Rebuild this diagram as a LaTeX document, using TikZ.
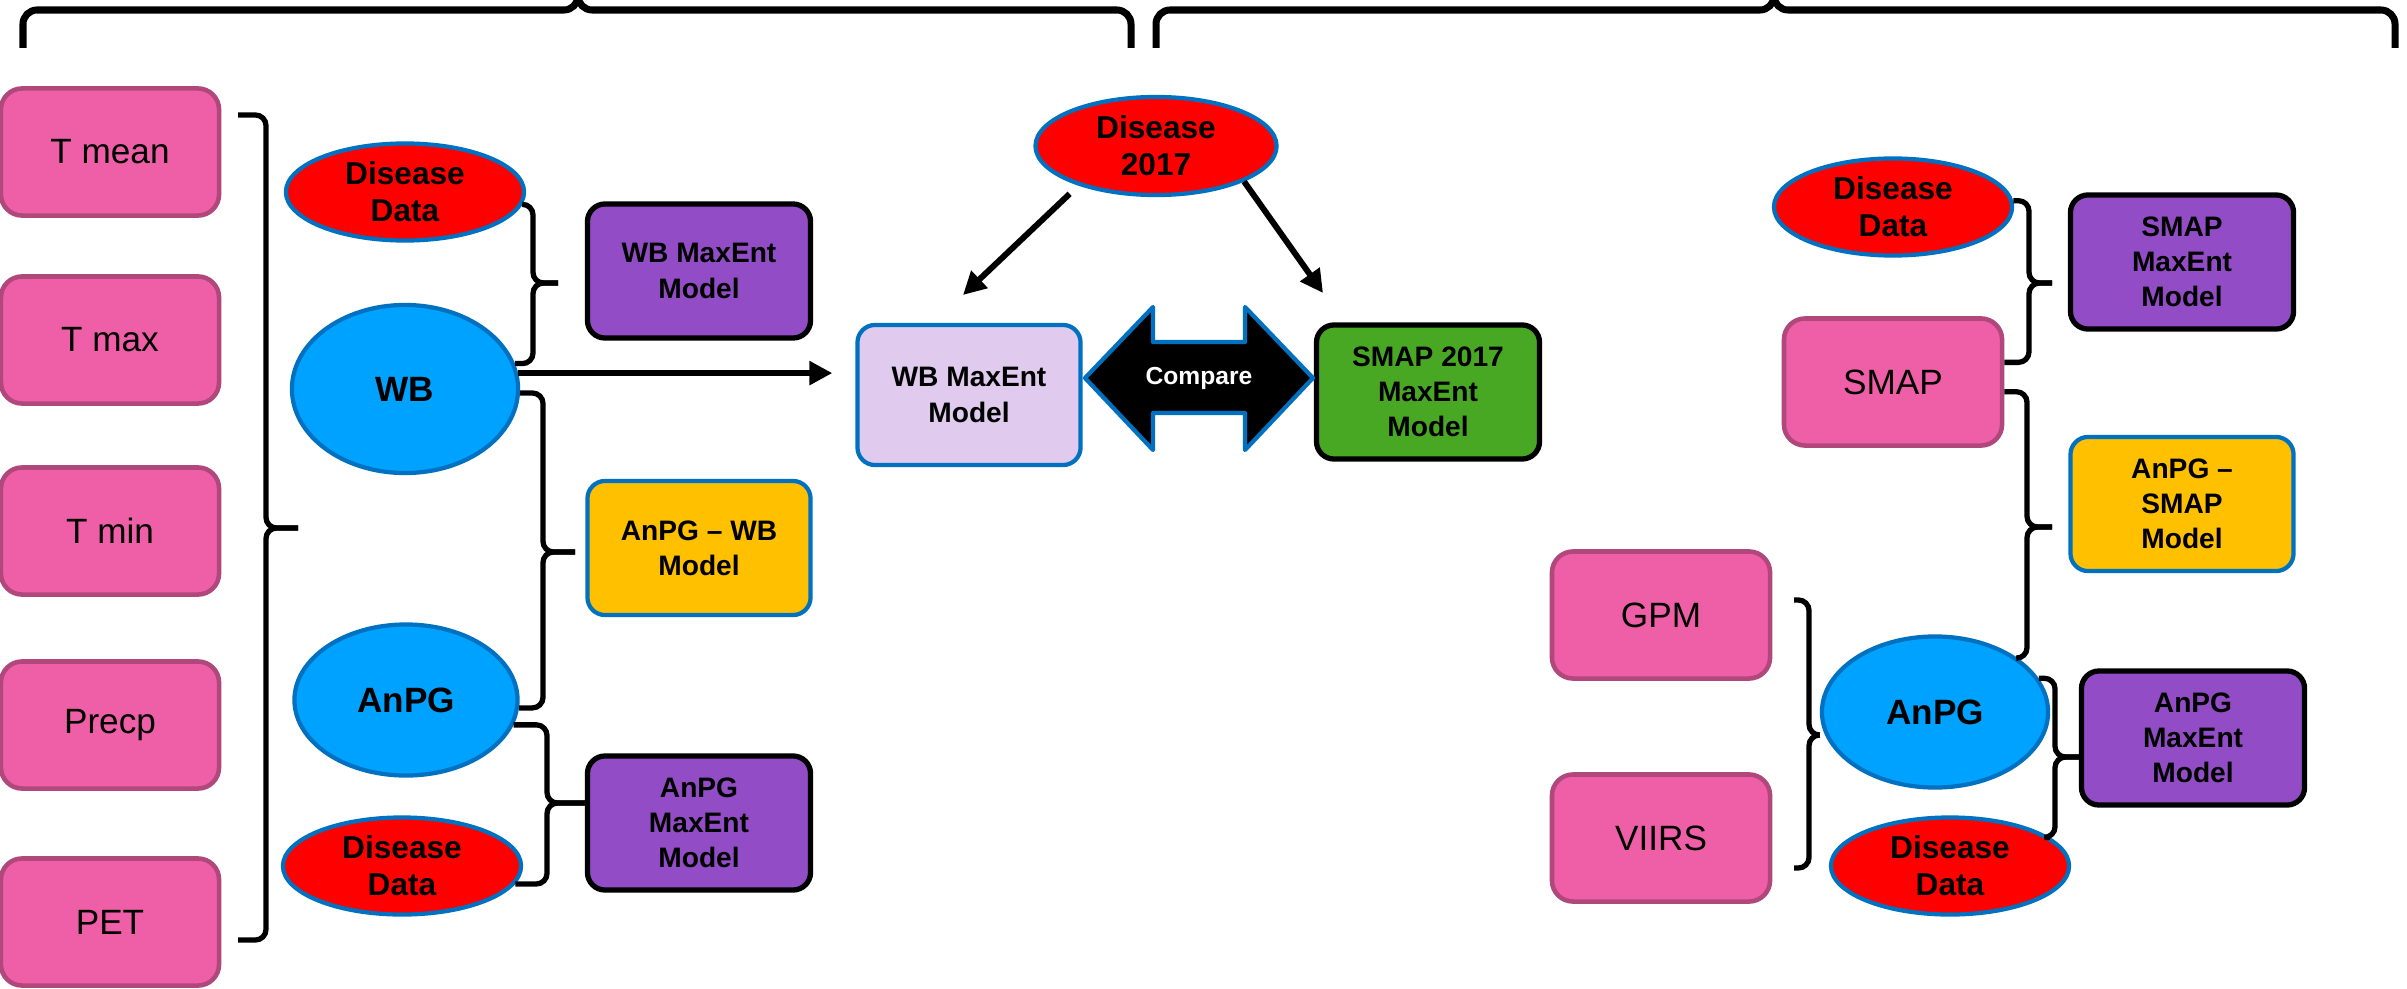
\documentclass[tikz,border=0pt]{standalone}
\usepackage{fontspec}
\setmainfont{Liberation Sans}
\usepackage{xcolor}
\usepackage{tikz}
\usetikzlibrary{arrows.meta,shapes.geometric}

\definecolor{pinkfill}{RGB}{239,95,167}
\definecolor{pinkline}{RGB}{176,72,124}
\definecolor{blueline}{RGB}{0,112,192}
\definecolor{skyfill}{RGB}{0,162,255}
\definecolor{purplefill}{RGB}{145,76,198}
\definecolor{yellowfill}{RGB}{255,192,0}
\definecolor{lavfill}{RGB}{224,202,238}
\definecolor{greenfill}{RGB}{72,168,36}

\begin{document}
\begin{tikzpicture}[x=0.01cm, y=-0.01cm,
    inbox/.style={draw=pinkline, fill=pinkfill, line width=1.3pt, rounded corners=6pt, minimum width=2.18cm, minimum height=1.27cm, font=\fontsize{10}{12}\selectfont},
    disease/.style={ellipse, draw=blueline, fill=red, line width=1.2pt, inner sep=0pt, minimum width=2.38cm, minimum height=0.97cm, align=center, font=\fontsize{9}{10.5}\selectfont\bfseries},
    sensor/.style={ellipse, draw=blueline, fill=skyfill, line width=1.2pt, inner sep=0pt, font=\fontsize{10}{12}\selectfont\bfseries},
    mbox/.style={rounded corners=5pt, minimum width=2.23cm, minimum height=1.34cm, align=center, font=\fontsize{8}{10}\selectfont\bfseries},
    maxent/.style={mbox, draw=black, fill=purplefill, line width=1.5pt},
    combo/.style={mbox, draw=blueline, fill=yellowfill, line width=1.2pt},
    brc/.style={line width=1.5pt, rounded corners=3pt},
    topbrc/.style={line width=2pt, rounded corners=4pt},
    arr/.style={line width=1.7pt, -{Triangle[length=6.5pt,width=6.5pt]}}]

    \useasboundingbox (0,0) rectangle (2407,988);

    % inputs
    \node[inbox] (tmean) at (110,152) {T mean};
    \node[inbox] (tmax) at (110,340) {T max};
    \node[inbox] (tmin) at (110,531) {T min};
    \node[inbox] (precp) at (110,725) {Precp};
    \node[inbox] (pet) at (110,922) {PET};

    \node[disease] (ddL1) at (405,192) {Disease\\Data};
    \node[sensor, minimum width=2.26cm, minimum height=1.68cm] (wb) at (405,389) {WB};
    \node[sensor, minimum width=2.23cm, minimum height=1.51cm] (anpgL) at (406,700) {AnPG};
    \node[disease] (ddL2) at (402,866) {Disease\\Data};

    \node[maxent] (wbmx) at (699,271) {WB MaxEnt\\Model};
    \node[combo] (anwb) at (699,548) {AnPG – WB\\Model};
    \node[maxent] (anmxL) at (699,823) {AnPG\\MaxEnt\\Model};

    % comparison
    \node[disease, minimum width=2.41cm, minimum height=0.98cm] (d17) at (1156,146) {Disease\\2017};
    \node[mbox, draw=blueline, fill=lavfill, line width=1.2pt, minimum height=1.4cm] (wbres) at (969,395) {WB MaxEnt\\Model};
    \node[mbox, draw=black, fill=greenfill, line width=1.5pt] (smres) at (1428,392) {SMAP 2017\\MaxEnt\\Model};

    \draw[fill=black, draw=blueline, line width=1.2pt, line join=round] (1085,378) -- (1153,307) -- (1153,342) -- (1245,342) -- (1245,307) -- (1313,378) -- (1245,450) -- (1245,413) -- (1153,413) -- (1153,450) -- cycle;
    \node[text=white, font=\fontsize{7}{8}\selectfont\bfseries] (cmp) at (1199,378) {Compare};

    % right side
    \node[disease] (ddR1) at (1893,207) {Disease\\Data};
    \node[maxent] (smmx) at (2182,262) {SMAP\\MaxEnt\\Model};
    \node[inbox] (smap) at (1893,382) {SMAP};
    \node[combo] (ansm) at (2182,504) {AnPG –\\SMAP\\Model};
    \node[inbox] (gpm) at (1661,615) {GPM};
    \node[inbox] (viirs) at (1661,838) {VIIRS};
    \node[sensor, minimum width=2.26cm, minimum height=1.51cm] (anpgR) at (1935,712) {AnPG};
    \node[maxent] (anmxR) at (2193,738) {AnPG\\MaxEnt\\Model};
    \node[disease] (ddR2) at (1950,866) {Disease\\Data};

    % arrows
    \coordinate (tipA) at (963,295);
    \coordinate (tipB) at (1323,293);
    \draw[arr, shorten >=0.23cm] (wb.8) -- (wb.8 -| wbres.west);
    \draw[arr, shorten <=0.12cm] (d17.207) -- (tipA);
    \draw[arr] (d17.-22) -- (tipB);

    % top braces
    \coordinate (ta1) at (23,48);
    \coordinate (ta2) at (1131,48);
    \coordinate (tk1) at (578,10);
    \coordinate (tt1) at (578,-20);
    \draw[topbrc] (ta1) |- (tk1) -- (tt1);
    \draw[topbrc] (ta2) |- (tk1) -- (tt1);
    \coordinate (ta3) at (1156,48);
    \coordinate (ta4) at (2395,48);
    \coordinate (tk2) at (1774,10);
    \coordinate (tt2) at (1774,-20);
    \draw[topbrc] (ta3) |- (tk2) -- (tt2);
    \draw[topbrc] (ta4) |- (tk2) -- (tt2);

    % left braces
    \coordinate (bl1) at (238,115);
    \coordinate (bl2) at (238,940);
    \coordinate (kL) at (266,528);
    \coordinate (tL) at (298,528);
    \draw[brc] (bl1) -| (kL) -- (tL);
    \draw[brc] (bl2) -| (kL) -- (tL);

    \coordinate (k1) at (533,283);
    \coordinate (t1) at (558,283);
    \draw[brc] (ddL1.-6) -| (k1) -- (t1);
    \draw[brc] (wb.13) -| (k1) -- (t1);

    \coordinate (k2) at (543,552);
    \coordinate (t2) at (575,552);
    \draw[brc] (wb.-2) -| (k2) -- (t2);
    \draw[brc] (anpgL.-4) -| (k2) -- (t2);

    \coordinate (k3) at (547,803);
    \draw[brc] (anpgL.-13) -| (k3) -- (anmxL.west |- k3);
    \draw[brc] (ddL2.-9) -| (k3) -- (anmxL.west |- k3);

    % right braces
    \coordinate (k4) at (2029,283);
    \coordinate (t4) at (2052,283);
    \draw[brc] (ddR1.3) -| (k4) -- (t4);
    \draw[brc] (smap.10) -| (k4) -- (t4);

    \coordinate (k5) at (2027,527);
    \coordinate (t5) at (2052,527);
    \draw[brc] (smap.-5) -| (k5) -- (t5);
    \draw[brc] (anpgR.33) -| (k5) -- (t5);

    \coordinate (k6) at (2055,757);
    \draw[brc] (anpgR.18) -| (k6) -- (anmxR.west |- k6);
    \draw[brc] (ddR2.16) -| (k6) -- (anmxR.west |- k6);

    \coordinate (g1) at (1794,600);
    \coordinate (g2) at (1794,868);
    \coordinate (kg) at (1809,735);
    \draw[brc] (g1) -| (kg) -- (anpgR.west |- kg);
    \draw[brc] (g2) -| (kg) -- (anpgR.west |- kg);
\end{tikzpicture}
\end{document}
